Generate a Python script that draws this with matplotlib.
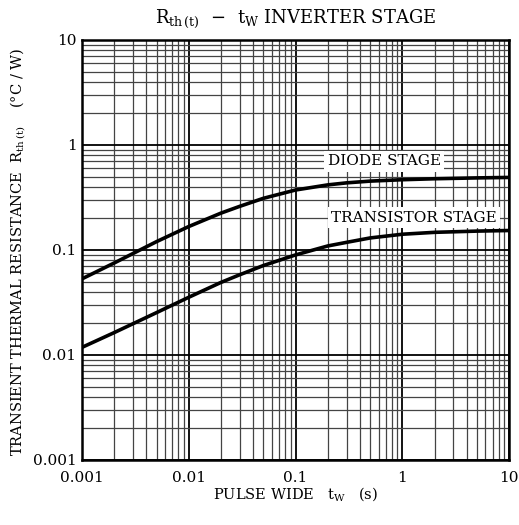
import matplotlib

matplotlib.use("Agg")
import matplotlib.pyplot as plt
from matplotlib.ticker import LogLocator, FixedLocator, FixedFormatter

# values
tw = [0.001, 0.002, 0.005, 0.01, 0.02, 0.03, 0.05, 0.1, 0.2, 0.3, 0.5, 1.0, 2.0, 5.0, 10.0]
diode = [0.053, 0.075, 0.12, 0.167, 0.224, 0.26, 0.31, 0.372, 0.416, 0.435, 0.452,
         0.466, 0.476, 0.485, 0.49]
transistor = [0.0118, 0.0163, 0.0253, 0.0354, 0.049, 0.058, 0.071, 0.0896, 0.109,
              0.118, 0.13, 0.141, 0.147, 0.151, 0.153]

x_ticks = [0.001, 0.01, 0.1, 1, 10]
x_labels = ["0.001", "0.01", "0.1", "1", "10"]
y_ticks = [0.001, 0.01, 0.1, 1, 10]
y_labels = ["0.001", "0.01", "0.1", "1", "10"]

plt.rcParams["font.family"] = ["DejaVu Serif"]
plt.rcParams["mathtext.fontset"] = "dejavuserif"

fig = plt.figure(figsize=(5.19, 5.25), dpi=100)
ax = fig.add_axes((0.158, 0.124, 0.823, 0.8))
ax.set_xscale("log")
ax.set_yscale("log")
ax.set_xlim(0.001, 10)
ax.set_ylim(0.001, 10)

minor_subs = [2, 3, 4, 5, 6, 7, 8, 9]
ax.xaxis.set_minor_locator(LogLocator(base=10, subs=minor_subs))
ax.yaxis.set_minor_locator(LogLocator(base=10, subs=minor_subs))
ax.xaxis.set_major_locator(FixedLocator(x_ticks))
ax.xaxis.set_major_formatter(FixedFormatter(x_labels))
ax.yaxis.set_major_locator(FixedLocator(y_ticks))
ax.yaxis.set_major_formatter(FixedFormatter(y_labels))
ax.xaxis.set_minor_formatter(plt.NullFormatter())
ax.yaxis.set_minor_formatter(plt.NullFormatter())

ax.grid(True, which="major", color="black", lw=1.3)
ax.grid(True, which="minor", color="#444444", lw=0.9)
ax.tick_params(which="both", length=0, labelsize=11)
ax.tick_params(axis="x", pad=8)
ax.tick_params(axis="y", pad=4)
for s in ax.spines.values():
    s.set_linewidth(1.8)

ax.plot(tw, diode, color="black", lw=2.6, solid_joinstyle="round")
ax.plot(tw, transistor, color="black", lw=2.6, solid_joinstyle="round")

box = dict(facecolor="white", edgecolor="none", pad=2.5)
ax.text(0.2, 0.70, "DIODE STAGE", fontsize=11, va="center", ha="left", bbox=box)
ax.text(0.215, 0.202, "TRANSISTOR STAGE", fontsize=11, va="center", ha="left", bbox=box)

fig.text(0.57, 0.965, r"$\mathrm{R_{th\,(t)}}$  $-$  $\mathrm{t_W}$ INVERTER STAGE",
         ha="center", va="center", fontsize=13)
fig.text(0.57, 0.058, r"PULSE WIDE   $\mathrm{t_W}$   (s)", ha="center", va="center", fontsize=10.5)
fig.text(0.035, 0.52, r"TRANSIENT THERMAL RESISTANCE  $\mathrm{R_{th\,(t)}}$    (°C / W)",
         ha="center", va="center", rotation=90, fontsize=10.5)

fig.savefig("out.png", dpi=100)
